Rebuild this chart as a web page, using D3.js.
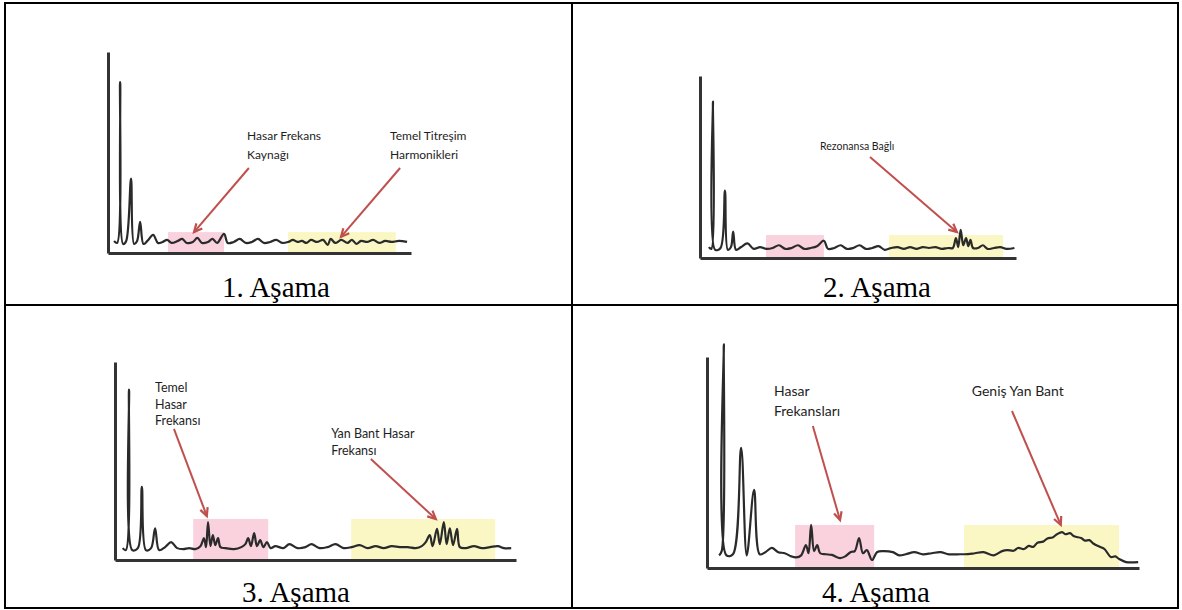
<!DOCTYPE html>
<html><head><meta charset="utf-8">
<script src="https://cdn.jsdelivr.net/npm/d3@7"></script>
<style>body{margin:0;background:#fff}svg{display:block}</style>
</head><body>
<svg id="c" width="1182" height="610"></svg>
<script>
// ---- DATA (frequency 0-100, amplitude 0-100) ----
const stage1Spectrum = [[2,6],[3,5],[4,85],[5,4.5],[6,6],[7.6,37],[8.6,4.5],[9.6,6],[10.6,15.5],[11.7,4.5],[13,6],[14.9,9],[16.5,5],[18,5.5],[19.5,6.5],[21,5],[23,6],[24.5,7],[26,5],[28,5.5],[29.5,7.5],[31,5],[33,5.5],[34.5,7],[36,5],[38.3,9.5],[39.5,5],[41.5,5.5],[43.5,7],[45.5,5],[47.5,5.5],[49.5,7],[51.5,5],[53.5,5.5],[55.5,6.5],[57.5,5],[59.5,5.5],[61,6.5],[62.5,5.5],[64,6],[65.5,5],[67,6.5],[69,5.5],[71,6.5],[72.5,4],[73.5,7],[75,5],[77,6.5],[79,5],[80.5,6.5],[82,4.5],[83.5,6],[85.5,5.5],[87.5,6.5],[89.5,5],[91.5,6],[93.5,5.5],[96,6],[98.7,5.5]];
const stage2Spectrum = [[2.8,6],[3.6,5],[4.1,86],[4.8,4.5],[6.5,5.5],[7.9,37],[8.8,4.5],[9.8,6],[10.5,14.5],[11.4,4.5],[13,6],[15,8],[17,5],[19,6],[21,5],[23,5.5],[25,7],[27,5],[29,5.5],[31,7],[33,5],[35,5.5],[37,6.5],[39.2,9.5],[40.5,5],[42.5,5.5],[44.5,7],[46.5,5],[48.5,5.5],[50.5,7],[52.5,5],[54.5,5.5],[56.5,6.5],[58.5,4.5],[60.5,5.5],[62.5,6],[64.5,5],[66.5,6],[68.5,5],[70.5,6],[72.5,5.5],[74.5,6],[76.5,5],[78.5,5.5],[80,5.5],[81,11],[81.7,6],[82.5,15.5],[83.3,7],[84.2,11],[84.9,6.5],[85.6,10],[86.4,5.5],[88,5.5],[89.5,7],[91,5],[93,5.5],[95,6],[97,5],[99.5,5.5]];
const stage3Spectrum = [[1.9,6],[2.7,5],[3.5,86],[4.3,5],[5.7,6],[6.7,37],[7.7,5],[9,6],[10,16],[11,5],[12.5,6.5],[14,9],[15.5,6],[17,5.5],[18.5,6],[20,5.5],[21.3,7],[22.2,11],[22.7,6.5],[23.2,19.2],[23.8,7],[24.4,12.6],[25,7.5],[25.7,11],[26.3,6.5],[27.5,6],[29.7,5.5],[31.5,6.5],[32.5,8],[33.2,11],[33.9,7],[34.7,13.6],[35.4,7],[36.2,10],[37,6.5],[37.9,9],[38.8,6],[40,7],[42,6],[43.5,8],[45.5,6],[47.5,6.5],[49,8],[51,6],[53,6.5],[55,8],[57,6],[59,6.5],[61,7.5],[63,6],[65,7],[67,6],[69,7],[71,6.5],[73,6.5],[75,6],[76.5,7],[77.5,9],[78.5,12.6],[79.2,7],[80.3,15.7],[81,8],[82,19.2],[82.7,8],[83.5,16],[84.3,7.5],[85.3,15.7],[86,6.5],[87.5,6],[89.5,7],[91.5,6],[93.5,6.5],[95.5,7],[97,6],[98.8,6]];
const stage4Spectrum = [[2.8,6],[3.4,8],[3.9,106],[4.5,6],[6,6.5],[7.9,57],[9.2,6],[10.9,37],[12.2,6.5],[13.5,7.5],[15,9.5],[16.5,7.5],[18,7],[19.5,5.5],[20.6,5],[21.8,6],[22.9,10.9],[23.5,7],[24.1,20.4],[24.8,8],[25.5,10.9],[26.2,7],[27.5,6.5],[28.9,6.2],[30.8,4.7],[32,5.5],[33.3,7.6],[34.2,8],[35.2,14.2],[36.1,7],[37,8.5],[38.2,3.8],[39.4,7.6],[41,8],[43,7.5],[44.5,6],[46,6.5],[48,7.5],[50,6.5],[52,7],[54,7.5],[56,6.5],[58,6.5],[60.4,6.6],[62,7],[64,7.5],[66.4,6],[68.3,8],[69.5,8.5],[71,8.2],[72,9.5],[73.4,9],[74.5,10.5],[75.5,10],[76.5,12],[77.8,12.5],[78.8,14],[80,14.5],[81,16],[82.2,17],[83,16],[84,16.5],[85,15],[86.6,14.2],[87.5,13],[88.5,13.2],[89.5,11.5],[91,10],[92,9],[93.5,5.2],[94.5,5.5],[95.4,4.3],[97,2.8],[99.8,2.8]];

const stageCaptions = ["1. Aşama","2. Aşama","3. Aşama","4. Aşama"];
// bands: [from, to, top amplitude]
const damageBands   = [[19.8,38.3,10.4],[20.9,39.2,12.6],[19.5,38.2,20.7],[20.4,38.7,20.4]];
const harmonicBands = [[59.4,95,10.4],[59.8,95.9,12.6],[58.9,94.8,20.7],[59.5,95.4,20.4]];
// annotations: label lines, label anchor (freq, amp), arrow from (freq, amp) to (freq, amp)
const annotations = [
  [ {lines:["Hasar Frekans","Kaynağı"], at:[45.9,56.2], from:[46.5,42.3], to:[28.4,10.4]},
    {lines:["Temel Titreşim","Harmonikleri"], at:[93.1,56.2], from:[96.4,42.3], to:[76.9,8]} ],
  [ {lines:["Rezonansa Bağlı"], at:[38,59.3], from:[53.8,55.5], to:[81.3,14.3]} ],
  [ {lines:["Temel","Hasar","Frekansı"], at:[10,84.8], from:[14.7,66.2], to:[22.9,22.2]},
    {lines:["Yan Bant Hasar","Frekansı"], at:[53.9,61.6], from:[63.8,51], to:[80,20.7]} ],
  [ {lines:["Hasar","Frekansları"], at:[15.5,81.5], from:[24.5,67.3], to:[30.8,22.7]},
    {lines:["Geniş Yan Bant"], at:[61.3,81.5], from:[70.6,74.4], to:[81.9,20.4]} ]
];
const spectra = [stage1Spectrum, stage2Spectrum, stage3Spectrum, stage4Spectrum];

// ---- LAYOUT ----
const layout = [
  {x0:108, x1:411, yb:253, yt:52,  font:12,   lh:19, capX:276, capY:297},
  {x0:700, x1:1016, yb:258, yt:76, font:10.5, lh:16, capX:877, capY:297},
  {x0:115, x1:516, yb:560, yt:362, font:12.5, lh:16.5, capX:296, capY:602},
  {x0:707, x1:1139, yb:568, yt:357, font:14,  lh:20, capX:876, capY:602}
];

const svg = d3.select("#c");
const red = "#c0504d";

layout.forEach((L, i) => {
  const x = d3.scaleLinear().domain([0,100]).range([L.x0, L.x1]);
  const y = d3.scaleLinear().domain([0,100]).range([L.yb, L.yt]);
  const g = svg.append("g");

  // bands
  const bands = [[damageBands[i], "#f9d2de"], [harmonicBands[i], "#faf7c4"]];
  bands.forEach(([b, col]) => {
    g.append("rect").attr("x", x(b[0])).attr("width", x(b[1]) - x(b[0]))
      .attr("y", y(b[2])).attr("height", y(0) - y(b[2])).attr("fill", col);
  });

  // spectrum line
  const line = d3.line().x(d => x(d[0])).y(d => y(d[1])).curve(d3.curveCatmullRom.alpha(0.5));
  g.append("path").datum(spectra[i]).attr("d", line)
    .attr("fill", "none").attr("stroke", "#2a2a2a").attr("stroke-width", 2.2)
    .attr("stroke-linejoin", "round");

  // axes (plain lines, no ticks)
  const xAxis = d3.axisBottom(x).tickValues([]).tickSizeOuter(0);
  const yAxis = d3.axisLeft(y).tickValues([]).tickSizeOuter(0);
  g.append("g").attr("transform", `translate(0,${L.yb})`).call(xAxis)
    .select(".domain").attr("stroke", "#333").attr("stroke-width", 3);
  g.append("g").attr("transform", `translate(${L.x0},0)`).call(yAxis)
    .select(".domain").attr("stroke", "#333").attr("stroke-width", 3);

  // annotations
  annotations[i].forEach(a => {
    const t = g.append("text").attr("x", x(a.at[0])).attr("y", y(a.at[1]))
      .attr("font-family", "Lato, 'Open Sans', sans-serif").attr("font-size", L.font).attr("fill", "#1e1e1e");
    a.lines.forEach((s, k) => {
      t.append("tspan").attr("x", x(a.at[0])).attr("y", y(a.at[1]) + k * L.lh).text(s);
    });
    const x1 = x(a.from[0]), y1 = y(a.from[1]), x2 = x(a.to[0]), y2 = y(a.to[1]);
    g.append("line").attr("x1", x1).attr("y1", y1).attr("x2", x2).attr("y2", y2)
      .attr("stroke", red).attr("stroke-width", 2);
    const ang = Math.atan2(y2 - y1, x2 - x1), hl = 9, spread = Math.PI / 7;
    const p = d3.path();
    p.moveTo(x2 - hl * Math.cos(ang - spread), y2 - hl * Math.sin(ang - spread));
    p.lineTo(x2, y2);
    p.lineTo(x2 - hl * Math.cos(ang + spread), y2 - hl * Math.sin(ang + spread));
    g.append("path").attr("d", p.toString()).attr("fill", "none")
      .attr("stroke", red).attr("stroke-width", 2.2).attr("stroke-linejoin", "miter");
  });

  // caption
  svg.append("text").attr("x", L.capX).attr("y", L.capY).attr("text-anchor", "middle")
    .attr("font-family", "'Liberation Serif', 'Times New Roman', serif")
    .attr("font-size", 29).attr("fill", "#000").text(stageCaptions[i]);
});

// table grid
const grid = svg.append("g").attr("stroke", "#000").attr("stroke-width", 2).attr("fill", "none");
grid.append("rect").attr("x", 5).attr("y", 3).attr("width", 1173).attr("height", 605);
grid.append("line").attr("x1", 572).attr("x2", 572).attr("y1", 3).attr("y2", 608);
grid.append("line").attr("x1", 5).attr("x2", 1178).attr("y1", 305).attr("y2", 305);
</script>
</body></html>
